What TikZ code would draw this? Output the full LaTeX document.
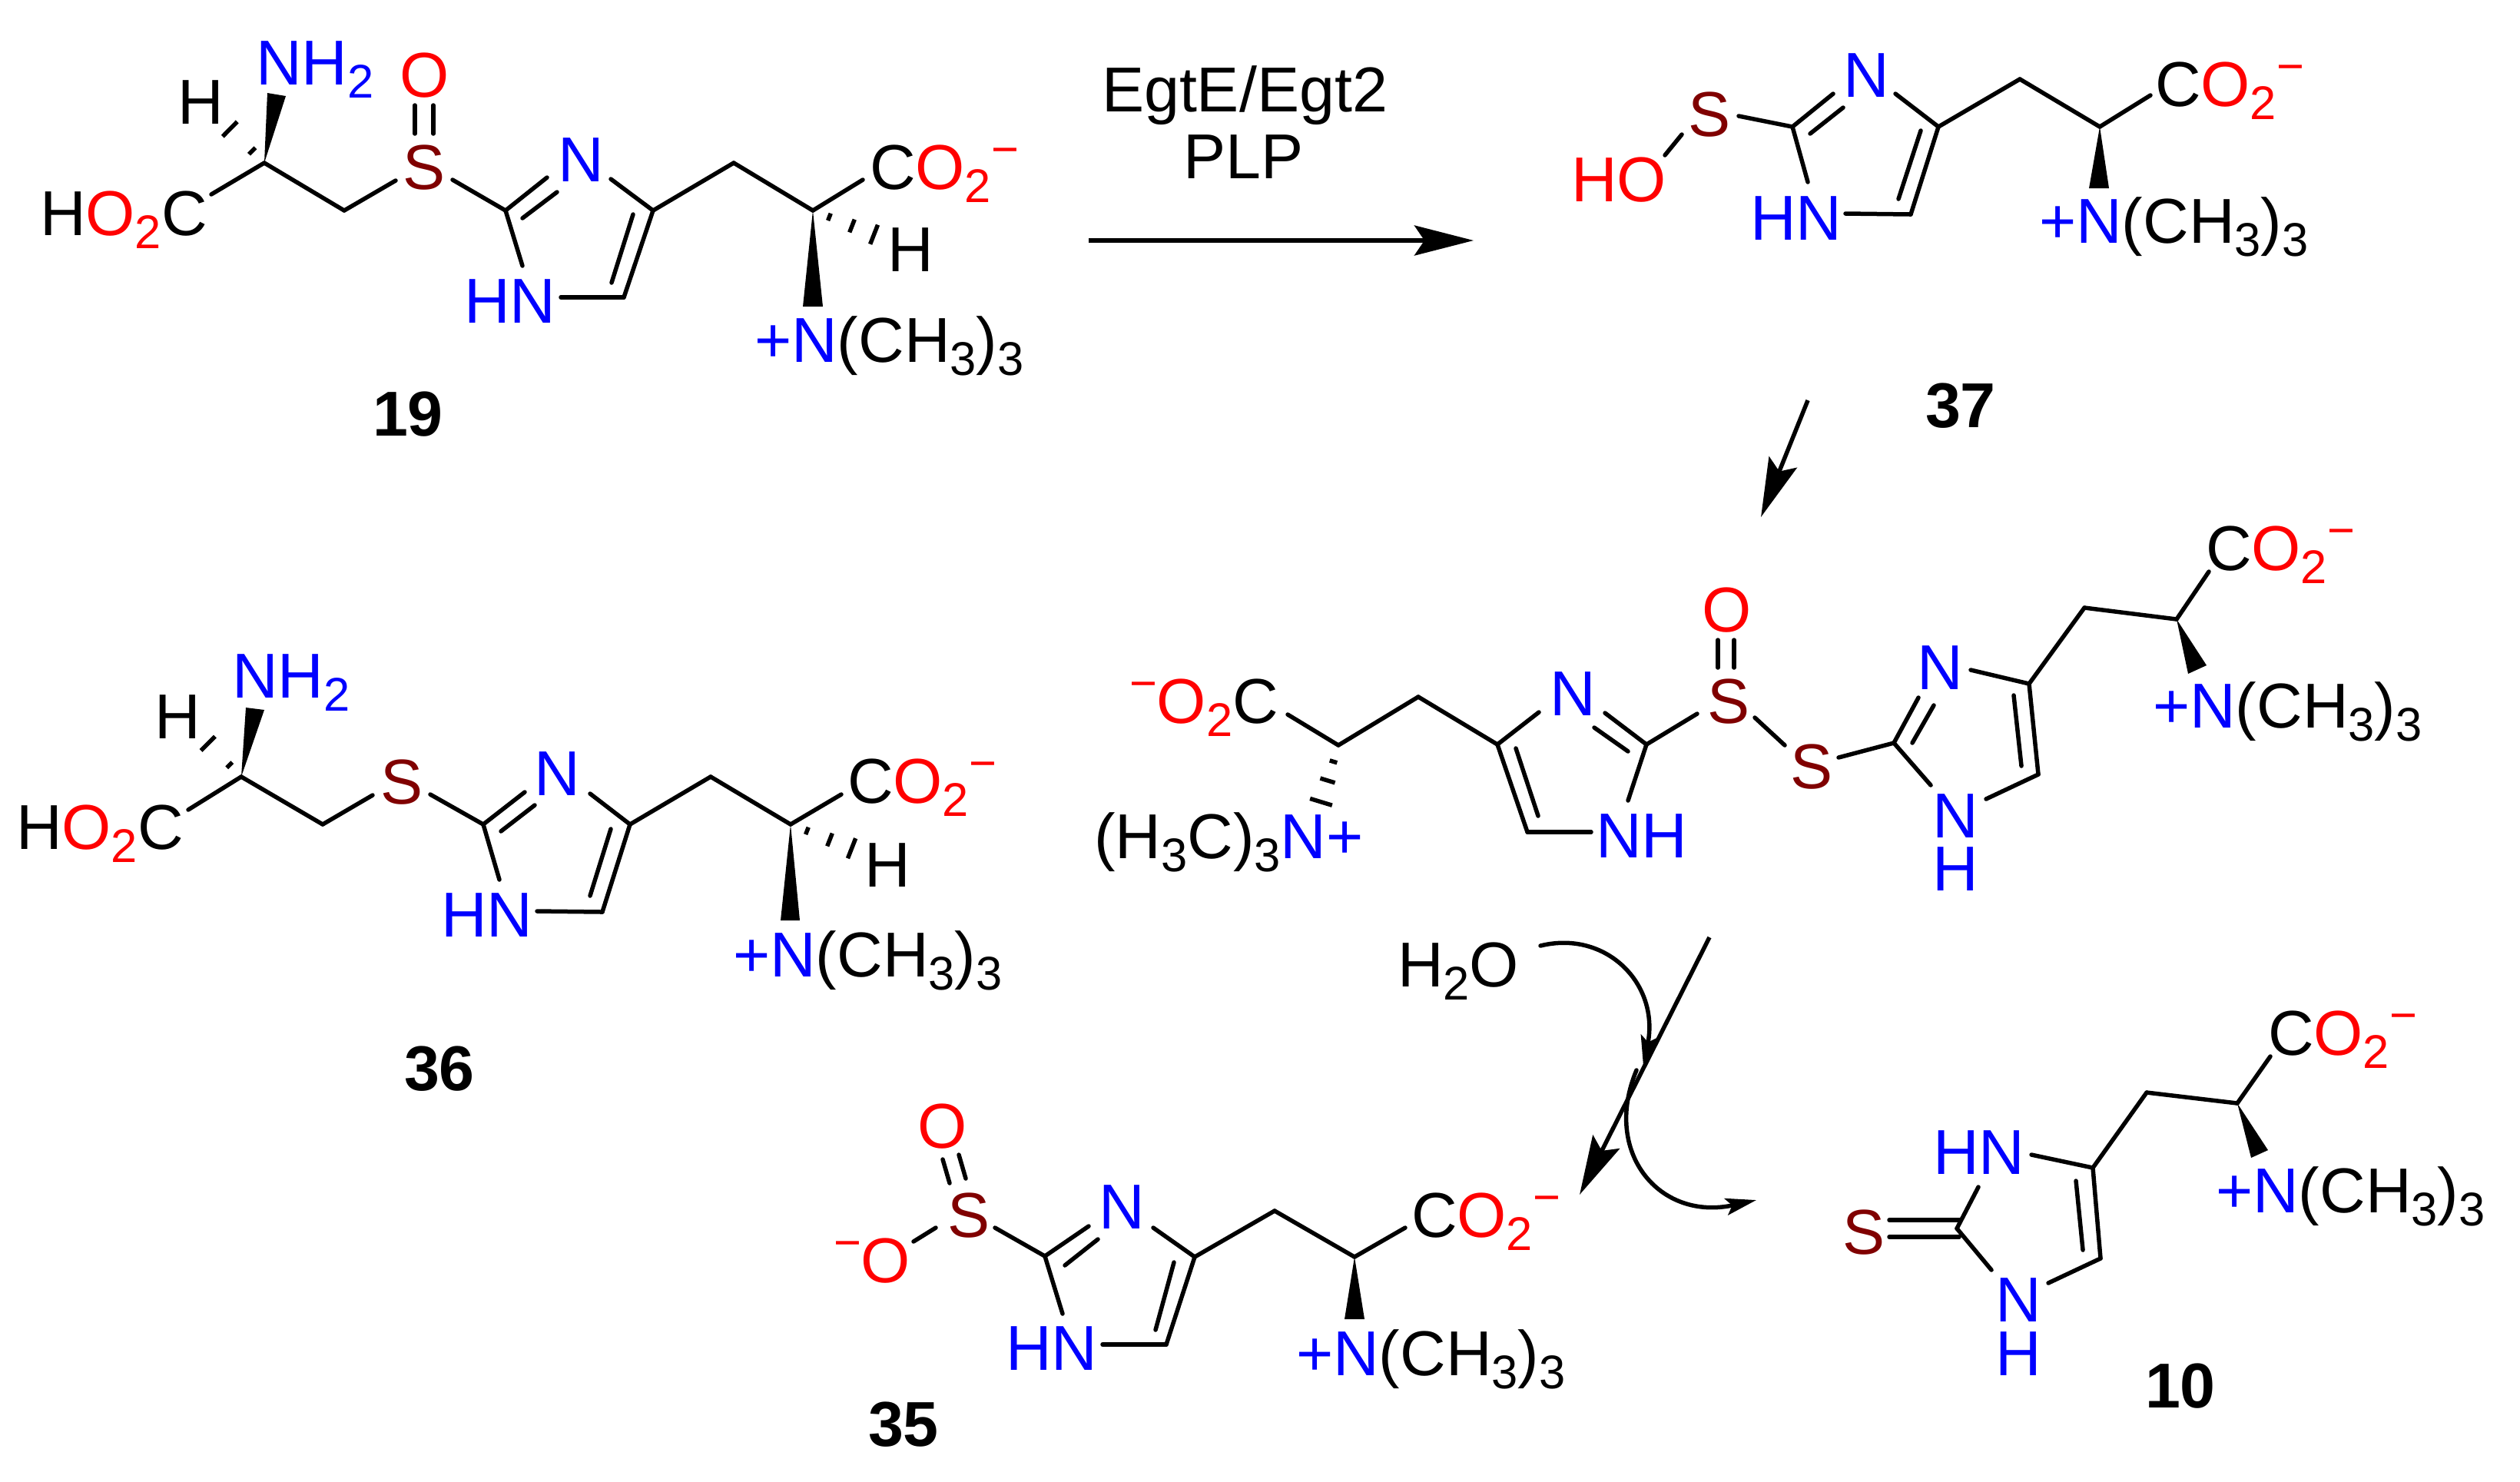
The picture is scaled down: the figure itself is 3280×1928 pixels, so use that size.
\documentclass[tikz,border=0pt]{standalone}
\usepackage{fontspec}
\setmainfont{Liberation Sans}
\usetikzlibrary{calc}
\usetikzlibrary{arrows.meta}
\definecolor{nit}{RGB}{0,0,255}
\definecolor{oxy}{RGB}{255,0,0}
\definecolor{sul}{RGB}{128,0,0}
\tikzset{>={Stealth[length=7.7mm,width=3.9mm,inset=1.3mm]}}
\tikzset{
  atom/.style = {anchor=base west, inner sep=0pt, outer sep=0pt,
    font=\fontsize{23.5}{27}\selectfont},
  nlabel/.style = {atom, text=nit},
  olabel/.style = {atom, text=oxy},
  slabel/.style = {atom, text=sul},
  numlabel/.style = {atom, font=\fontsize{23.5}{27}\selectfont\bfseries},
  bond/.style = {line width=.55mm, line cap=round, line join=round},
  wedge/.style = {fill=black},
  hash/.style = {line width=.55mm},
  rxn/.style = {line width=.55mm, ->},
  push/.style = {line width=.55mm, line cap=round,
    -{Stealth[length=4mm,width=2.2mm,inset=.8mm]}}
}
\newcommand{\chemsub}[1]{\raisebox{-5.1pt}{\fontsize{17.5}{20}\selectfont #1}}
\newcommand{\chemneg}{\raisebox{8.8pt}{\fontsize{17.5}{20}\selectfont −}}
\newcommand{\carbox}{C\textcolor{oxy}{O\chemsub{2}\chemneg}}
\newcommand{\ammon}{\textcolor{nit}{+N}(CH\chemsub{3})\chemsub{3}}
\newcommand{\pts}[1]{\foreach \n/\x/\y in {#1} \coordinate (\n) at (\x,\y);}
\newcommand{\bonds}[1]{\foreach \p/\q in {#1} \draw[bond] (\p) -- (\q);}
\newcommand{\hashbond}[3]{\foreach \t/\w in {#3}
  \draw[hash] ($(#1)!\t!(#2)!\w!90:(#2)$) -- ($(#1)!\t!(#2)!\w!-90:(#2)$);}
\begin{document}
\begin{tikzpicture}[x=.1mm, y=-.1mm]
  \useasboundingbox (0,0) rectangle (3280,1928);

  % compound 19
  \node[atom] (Ha) at (231,161) {H};
  \node[nlabel] (NHa) at (333,110) {NH\chemsub{2}};
  \node[olabel] (Oa) at (520,126) {O};
  \node[slabel] (Sa) at (524,246) {S};
  \node[atom] (HOa) at (52,306) {H\textcolor{oxy}{O\chemsub{2}}C};
  \node[nlabel] (Na) at (726,236) {N};
  \node[nlabel] (HNa) at (604,420) {HN};
  \node[atom] (COa) at (1132,246) {\carbox};
  \node[atom] (Hb) at (1155,353) {H};
  \node[atom] (NMa) at (982,471) {\ammon};
  \node[numlabel] (num19) at (485,567) {19};
  \pts{ca/344/212, ea/275/253, fa/448/274, ga/515/235, ia/589/234, ja/658/274,
    ka/712/231, la/680/284, ma/725/250, oa/795/233, pa/850/274, qa/812/387,
    ra/824/279, sa/796/368, ta/730/387, ua/680/346, va/955/212, wa/1058/274,
    xa/1123/234, ya/540/137, za/540/174, yb/564/137, zb/564/174,
    wb/1045/399, wc/1071/399, wd/348/121, we/372/125, hb/281/150, hc/1160/314}
  \bonds{ea/ca, ca/fa, fa/ga, ia/ja, ja/ka, la/ma, oa/pa, pa/qa, ra/sa, qa/ta,
    ja/ua, pa/va, va/wa, wa/xa, ya/za, yb/zb}
  \fill[wedge] (ca) -- (wd) -- (we) -- cycle;
  \fill[wedge] (wa) -- (wb) -- (wc) -- cycle;
  \hashbond{ca}{hb}{.25/.6mm, .71/1.35mm}
  \hashbond{wa}{hc}{.21/.5mm, .5/.9mm, .78/1.35mm}

  % reagents and first arrow
  \node[atom] (egt) at (1434,145) {EgtE/Egt2};
  \node[atom] (plp) at (1540,232) {PLP};
  \pts{ra1/1417/313, ra2/1918/313, rb1/2353/521, rb2/2292/673,
    rc1/2225/1220, rc2/2056/1555}
  \draw[rxn] (ra1) -- (ra2);
  \draw[rxn] (rb1) -- (rb2);
  \draw[rxn] (rc1) -- (rc2);

  % compound 37
  \node[slabel] (Sb) at (2197,177) {S};
  \node[olabel] (HOb) at (2045,262) {HO};
  \node[nlabel] (Nb) at (2399,126) {N};
  \node[nlabel] (HNb) at (2278,312) {HN};
  \node[atom] (COb) at (2805,138) {\carbox};
  \node[atom] (NMb) at (2654,316) {\ammon};
  \node[numlabel] (num37) at (2506,556) {37};
  \pts{cb/2733/165, eb/2799/124, fb/2629/103, gb/2523/165, ib/2487/279,
    jb/2333/165, kb/2386/122, lb/2356/174, mb/2399/140, ob/2467/122,
    pb/2500/170, qb/2471/259, sb/2402/278, tb/2353/237, ub/2263/151,
    vb/2189/175, xb/2167/202, wf/2719/245, wg/2745/245}
  \bonds{eb/cb, cb/fb, fb/gb, gb/ib, pb/qb, ib/sb, jb/tb, jb/kb, lb/mb, ob/gb,
    ub/jb, vb/xb}
  \fill[wedge] (cb) -- (wf) -- (wg) -- cycle;

  % compound 36
  \node[atom] (Hc) at (201,961) {H};
  \node[nlabel] (NHc) at (302,908) {NH\chemsub{2}};
  \node[atom] (HOc) at (21,1105) {H\textcolor{oxy}{O\chemsub{2}}C};
  \node[slabel] (Sc) at (495,1046) {S};
  \node[nlabel] (Nc) at (695,1035) {N};
  \node[nlabel] (HNc) at (574,1219) {HN};
  \node[atom] (COc) at (1103,1045) {\carbox};
  \node[atom] (Hd) at (1125,1154) {H};
  \node[atom] (NMc) at (954,1271) {\ammon};
  \node[numlabel] (num36) at (526,1419) {36};
  \pts{cc/314/1011, ec/245/1054, fc/420/1073, gc/485/1035, ic/560/1034,
    jc/629/1073, kc/683/1031, lc/652/1082, mc/696/1048, oc/768/1033,
    pc/820/1073, qc/784/1187, rc/795/1079, sc/768/1166, tc/699/1186,
    uc/650/1145, vc/925/1011, wh/1029/1073, xc/1095/1034, wi/1016/1198,
    wj/1041/1198, wk/320/921, wl/344/924, hd/253/950, he/1131/1113}
  \bonds{ec/cc, cc/fc, fc/gc, ic/jc, jc/kc, lc/mc, oc/pc, pc/qc, rc/sc, qc/tc,
    jc/uc, pc/vc, vc/wh, wh/xc}
  \fill[wedge] (cc) -- (wk) -- (wl) -- cycle;
  \fill[wedge] (wh) -- (wi) -- (wj) -- cycle;
  \hashbond{cc}{hd}{.25/.5mm, .71/1.3mm}
  \hashbond{wh}{he}{.21/.5mm, .5/.9mm, .78/1.4mm}

  % sulfinate dimer in the middle
  \node[olabel] (COd) at (1470,941) {\chemneg O\chemsub{2}\textcolor{black}{C}};
  \node[atom] (NMd) at (1424,1117) {(H\chemsub{3}C)\chemsub{3}\textcolor{nit}{N+}};
  \node[nlabel] (Nd) at (2017,931) {N};
  \node[slabel] (Sd) at (2222,941) {S};
  \node[olabel] (Od) at (2215,822) {O};
  \node[nlabel] (NHd) at (2077,1116) {NH};
  \node[slabel] (Se) at (2330,1026) {S};
  \node[nlabel] (Ne) at (2495,897) {N};
  \node[nlabel] (NHe) at (2515,1090) {N};
  \node[nlabel] (HHe) at (2515,1159) {H};
  \node[atom] (COe) at (2871,742) {\carbox};
  \node[atom] (NMe) at (2802,947) {\ammon};
  \pts{cd/1742/970, ed/1676/930, fd/1846/907, gd/1949/969, id/2003/927,
    jd/2089/928, kd/2143/969, ld/2075/947, md/2119/978, od/2209/929,
    pd/2119/1042, qd/1988/1083, rd/1973/974, sd/2002/1062, td/2071/1083,
    ud/2236/833, vd/2236/869, xd/2257/833, yd/2257/869, zd/2284/934, ze/2323/970,
    ce/2393/986, de/2465/967, ee/2497/908, fe/2489/967, ge/2517/918,
    ie/2565/872, je/2641/890, ke/2653/1008, le/2621/905, me/2631/997,
    oe/2585/1040, pe/2513/1022, qe/2713/791, re/2833/806, se/2875/744,
    wm/2848/877, wn/2872/866, hf/1717/1052}
  \bonds{ed/cd, cd/fd, fd/gd, gd/id, jd/kd, ld/md, kd/od, kd/pd, gd/qd, rd/sd,
    qd/td, ud/vd, xd/yd, zd/ze, ce/de, de/ee, fe/ge, ie/je, je/ke, le/me, ke/oe,
    de/pe, je/qe, qe/re, re/se}
  \fill[wedge] (re) -- (wm) -- (wn) -- cycle;
  \hashbond{cd}{hf}{.26/.5mm, .56/1mm, .9/1.5mm}

  % compound 35 and water
  \node[atom] (water) at (1819,1284) {H\chemsub{2}O};
  \node[slabel] (Sf) at (1233,1610) {S};
  \node[olabel] (Of) at (1194,1494) {O};
  \node[olabel] (Og) at (1085,1669) {\chemneg O};
  \node[nlabel] (Nf) at (1430,1599) {N};
  \node[nlabel] (HNf) at (1309,1783) {HN};
  \node[atom] (COf) at (1837,1610) {\carbox};
  \node[atom] (NMf) at (1687,1790) {\ammon};
  \node[numlabel] (num35) at (1130,1882) {35};
  \pts{cf/1763/1636, ef/1829/1598, ff/1659/1576, gf/1555/1636, if/1501/1598,
    jf/1518/1750, kf/1528/1643, lf/1504/1731, mf/1435/1750, of/1360/1635,
    pf/1417/1596, qf/1386/1647, rf/1429/1613, sf/1383/1710, tf/1295/1598,
    uf/1227/1509, vf/1236/1540, xf/1248/1503, yf/1257/1534, zf/1189/1616,
    zg/1218/1598, wo/1750/1717, wp/1776/1717,
    pa1/2005/1231, pa2/2139/1388, pb1/2130/1393, pb2/2286/1562}
  \bonds{ef/cf, cf/ff, ff/gf, gf/if, gf/jf, kf/lf, jf/mf, of/pf, qf/rf, of/sf,
    tf/of, uf/vf, xf/yf, zf/zg}
  \fill[wedge] (cf) -- (wo) -- (wp) -- cycle;
  \draw[push] (pa1) .. controls (2090,1210) and (2160,1280) .. (pa2);
  \draw[push] (pb1) .. controls (2085,1500) and (2160,1590) .. (pb2);

  % compound 10
  \node[slabel] (Sg) at (2398,1632) {S};
  \node[nlabel] (HNg) at (2516,1528) {HN};
  \node[nlabel] (Ng) at (2597,1720) {N};
  \node[nlabel] (HHg) at (2597,1790) {H};
  \node[atom] (COg) at (2952,1373) {\carbox};
  \node[atom] (NMg) at (2884,1578) {\ammon};
  \node[numlabel] (num10) at (2792,1832) {10};
  \pts{cg/2912/1436, eg/2955/1375, fg/2794/1422, gg/2724/1520, ig/2644/1503,
    jg/2734/1638, kg/2702/1537, lg/2711/1627, mg/2666/1670, og/2547/1599,
    pg/2575/1545, qg/2592/1653, rg/2459/1588, sg/2550/1588, tg/2459/1610,
    ug/2550/1610, wq/2930/1507, wr/2952/1497}
  \bonds{eg/cg, cg/fg, fg/gg, gg/ig, gg/jg, kg/lg, jg/mg, og/pg, og/qg, rg/sg,
    tg/ug}
  \fill[wedge] (cg) -- (wq) -- (wr) -- cycle;
\end{tikzpicture}
\end{document}
